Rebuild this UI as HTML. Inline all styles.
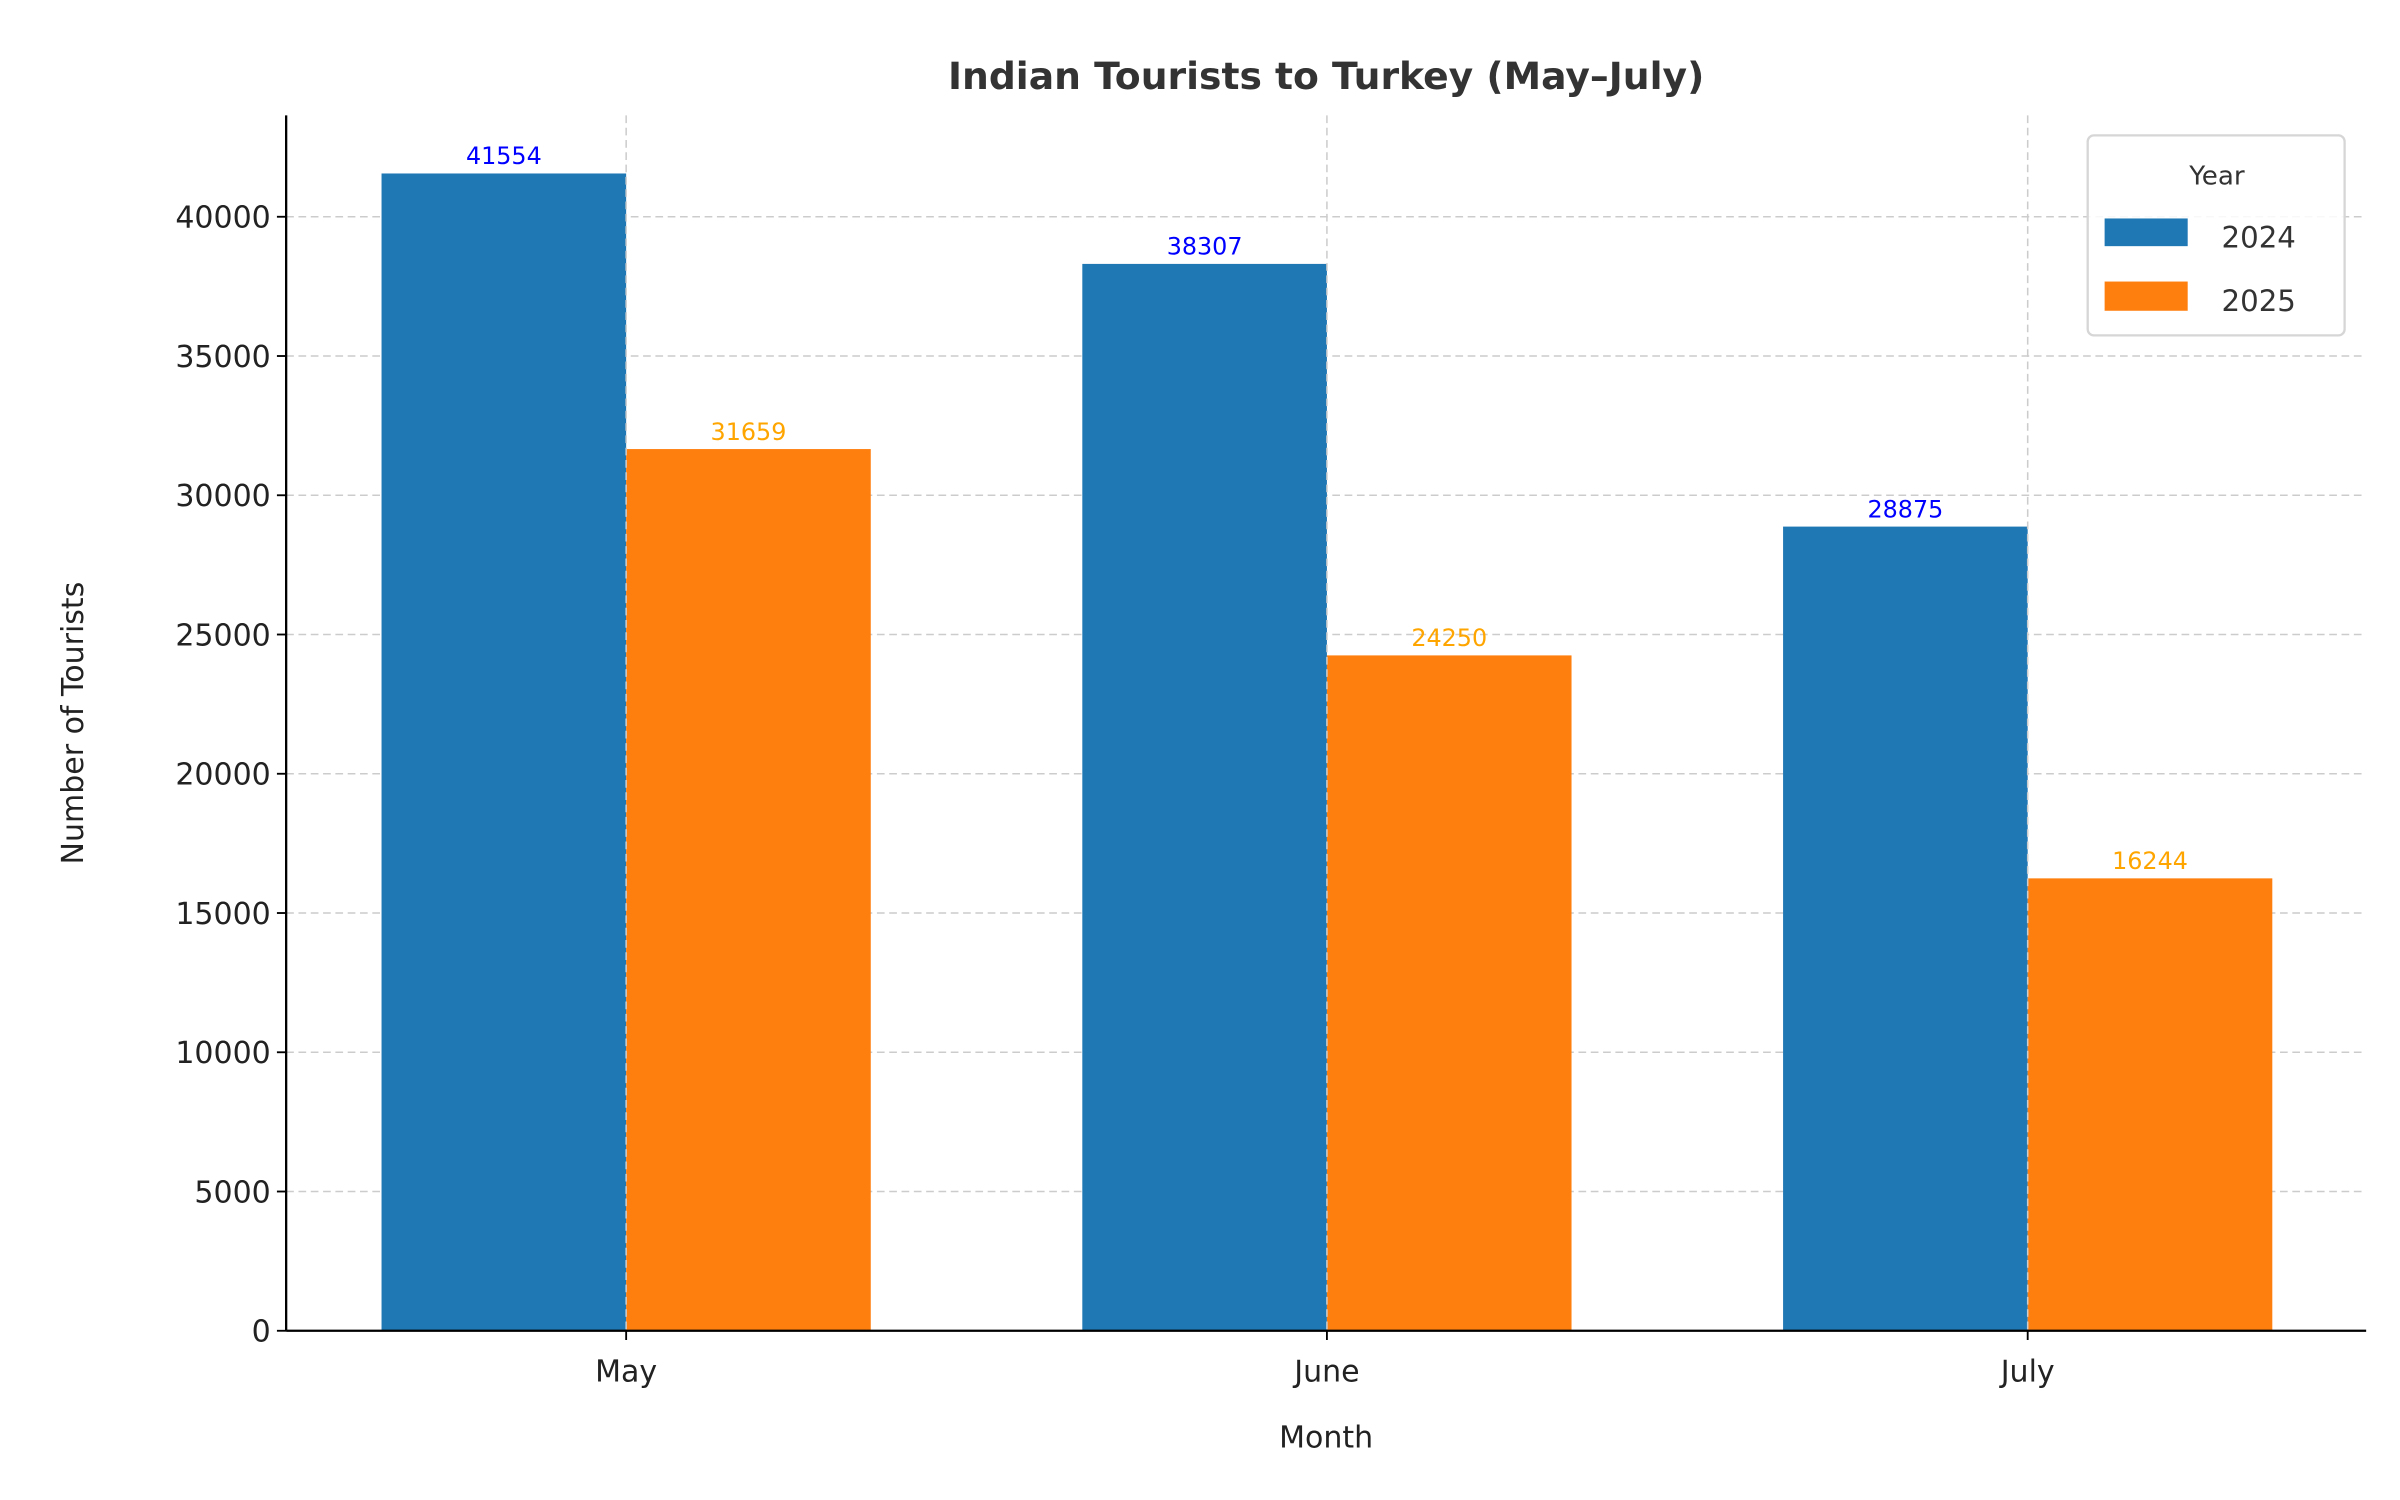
<!DOCTYPE html>
<html><head><meta charset="utf-8">
<style>
html,body{margin:0;padding:0;background:#fff;}
svg{display:block;font-family:"DejaVu Sans","Liberation Sans",sans-serif;}
</style></head>
<body>
<svg id="chart" width="2400" height="1500" viewBox="0 0 1560 975" xmlns="http://www.w3.org/2000/svg">
<rect width="1560" height="975" fill="#fff"/>
<g id="grid"></g>
<g id="bars"></g>
<g id="labels"></g>
<g id="axes"></g>
<text x="862" y="58" text-anchor="middle" font-size="24.5" font-weight="bold" fill="#333">Indian Tourists to Turkey (May–July)</text>
<text x="862" y="941" text-anchor="middle" font-size="19.5" fill="#222">Month</text>
<text transform="translate(54,470) rotate(-90)" text-anchor="middle" font-size="19.5" fill="#222">Number of Tourists</text>
<g>
<rect x="1357" y="88" width="167" height="130" rx="4" fill="#fff" fill-opacity="0.85" stroke="#d6d6d6" stroke-width="1.5"/>
<text x="1441" y="120" text-anchor="middle" font-size="17" fill="#333">Year</text>
<rect x="1368" y="142" width="54" height="18" fill="#1f77b4"/>
<text x="1444" y="161" font-size="19" fill="#333">2024</text>
<rect x="1368" y="183" width="54" height="19" fill="#ff7f0e"/>
<text x="1444" y="202" font-size="19" fill="#333">2025</text>
</g>
</svg>
<script>
const categories = ["May", "June", "July"];
const series2024 = [41554, 38307, 28875];
const series2025 = [31659, 24250, 16244];
const yTicks = [0, 5000, 10000, 15000, 20000, 25000, 30000, 35000, 40000];

const NS = "http://www.w3.org/2000/svg";
const L = 186, R = 1538, B = 865, T = 75;
const yMax = 43640;
const y = v => B - v / yMax * (B - T);
const xC = i => 407 + i * 455.5;
const bw = 159;

function mk(tag, attrs, parent) {
  const e = document.createElementNS(NS, tag);
  for (const k in attrs) e.setAttribute(k, attrs[k]);
  parent.appendChild(e);
  return e;
}
const grid = document.getElementById("grid"), bars = document.getElementById("bars"),
      labels = document.getElementById("labels"), axes = document.getElementById("axes");

yTicks.forEach(t => {
  const yy = y(t);
  if (t > 0) {
    const g = mk("line", {x1: L, x2: R, y1: yy, y2: yy, stroke: "#cccccc", "stroke-width": 1, "stroke-dasharray": "5,3"}, grid);
    
    
  }
  const tk = mk("line", {x1: L - 6, x2: L, y1: yy, y2: yy, stroke: "#000", "stroke-width": 1.2}, axes);
  
  
  const tl = mk("text", {x: L - 10, y: yy + 7, "text-anchor": "end", "font-size": 19.5, fill: "#222"}, axes);
  tl.textContent = t;
  
  
});

categories.forEach((c, i) => {
  const cx = xC(i);
  const b1 = mk("rect", {x: cx - bw, y: y(series2024[i]), width: bw, height: B - y(series2024[i]), fill: "#1f77b4"}, bars);
  
  
  const b2 = mk("rect", {x: cx, y: y(series2025[i]), width: bw, height: B - y(series2025[i]), fill: "#ff7f0e"}, bars);
  
  
  const l1 = mk("text", {x: cx - bw / 2, y: y(series2024[i]) - 6, "text-anchor": "middle", "font-size": 15.5, fill: "#0000ff"}, labels);
  l1.textContent = series2024[i];
  
  
  const l2 = mk("text", {x: cx + bw / 2, y: y(series2025[i]) - 6, "text-anchor": "middle", "font-size": 15.5, fill: "#ffa500"}, labels);
  l2.textContent = series2025[i];
  
  
  const vg = mk("line", {x1: cx, x2: cx, y1: T, y2: B, stroke: "#cccccc", "stroke-width": 1, "stroke-dasharray": "5,3"}, labels);
  
  
  const tk = mk("line", {x1: cx, x2: cx, y1: B, y2: B + 6, stroke: "#000", "stroke-width": 1.2}, axes);
  
  
  const tl = mk("text", {x: cx, y: B + 33, "text-anchor": "middle", "font-size": 19.5, fill: "#222"}, axes);
  tl.textContent = c;
  
  
});

const ax = mk("line", {x1: L, x2: L, y1: T, y2: B, stroke: "#000", "stroke-width": 1.5}, axes);


const axb = mk("line", {x1: L, x2: R, y1: B, y2: B, stroke: "#000", "stroke-width": 1.5}, axes);


</script>
</body></html>
